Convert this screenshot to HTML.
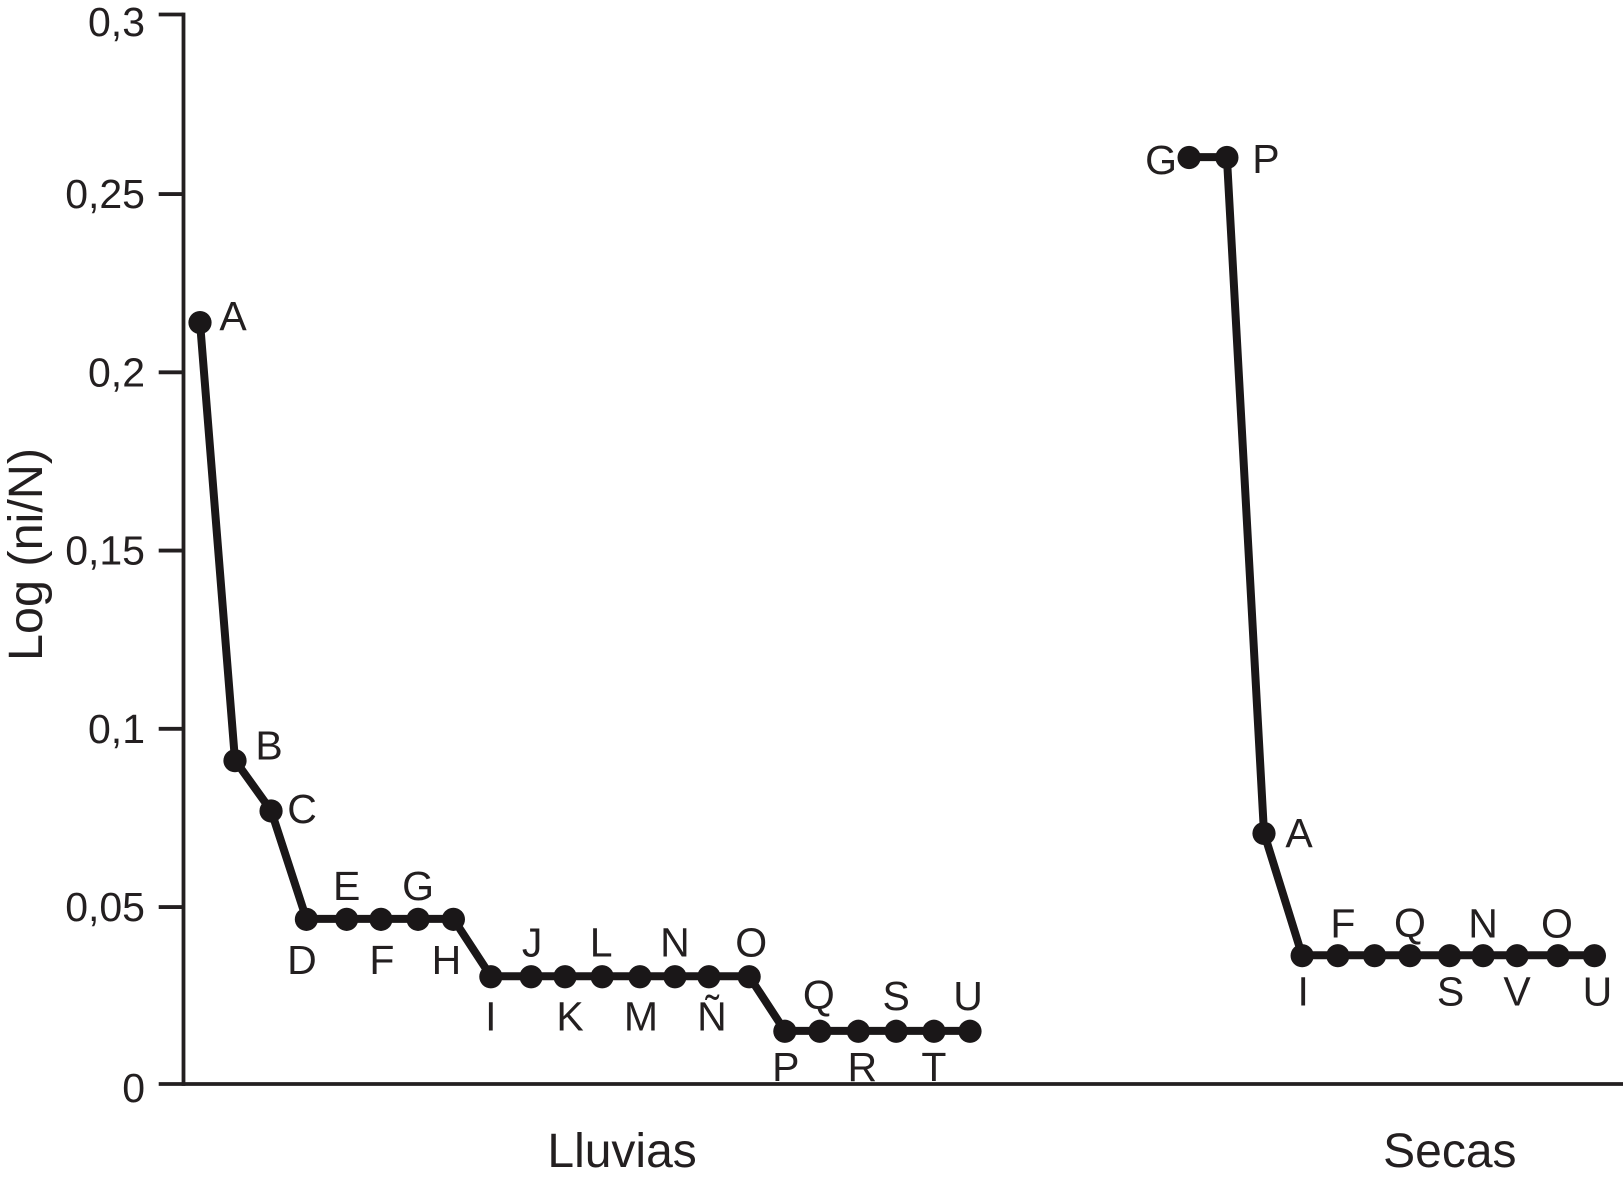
<!DOCTYPE html>
<html lang="es">
<head>
<meta charset="utf-8">
<title>Log (ni/N) Lluvias y Secas</title>
<style>
html,body{margin:0;padding:0;background:#fff;width:1623px;height:1179px;overflow:hidden}
svg{display:block}
text{font-family:"Liberation Sans",Arial,sans-serif;fill:#231f20}
</style>
</head>
<body>
<svg id="chart" xmlns="http://www.w3.org/2000/svg" width="1623" height="1179" viewBox="0 0 1623 1179">
<rect width="1623" height="1179" fill="#ffffff"/>
</svg>
<script>
// ---- Data ----
const yTicks = [0, 0.05, 0.1, 0.15, 0.2, 0.25, 0.3];
const yTickLabels = ['0', '0,05', '0,1', '0,15', '0,2', '0,25', '0,3'];
const categories = ['Lluvias', 'Secas'];

const lluviasSpecies = ['A','B','C','D','E','F','G','H','I','J','K','L','M','N','Ñ','O','P','Q','R','S','T','U'];
const lluviasRanks = [0, 1, 2.03, 3.04, 4.19, 5.17, 6.23, 7.24, 8.31, 9.46, 10.43, 11.49, 12.57, 13.57, 14.54, 15.69, 16.71, 17.71, 18.81, 19.89, 20.97, 22];
const lluviasValues = [0.2137, 0.0908, 0.0767, 0.0463, 0.0463, 0.0463, 0.0463, 0.0463, 0.0302, 0.0302, 0.0302, 0.0302, 0.0302, 0.0302, 0.0302, 0.0302, 0.0149, 0.0149, 0.0149, 0.0149, 0.0149, 0.0149];

const secasSpecies = ['G','P','A','I','F','','Q','S','N','V','O','U'];
const secasRanks = [28.26, 29.34, 30.4, 31.49, 32.51, 33.56, 34.57, 35.7, 36.66, 37.63, 38.8, 39.84];
const secasValues = [0.26, 0.26, 0.0704, 0.0361, 0.0361, 0.0361, 0.0361, 0.0361, 0.0361, 0.0361, 0.0361, 0.0361];

// ---- Label layout (offset from each marker) ----
const lluviasLabelOffsets = [[33,8],[34,-1],[31,12.5],[-4.5,55],[0,-19],[1,55],[0,-19],[-7,55],[0,54],[1,-20],[5,54],[-1,-20],[1,54],[0,-20],[3,54],[2,-20],[1,50],[-1,-22],[4,50],[0,-21],[0,50],[-2,-21]];
const secasLabelOffsets = [[-28,17],[39,16],[35,14],[1,50],[5,-18],[0,0],[0,-18.5],[1,50],[0,-18],[0,50],[-1,-18],[3,50]];

// ---- Axis functions ----
const xOrigin = 183.5, yZero = 1084, yTop = 14.5, yMax = 0.3;
const xScale = r => 200 + r * 35;
const yScale = v => yZero - (v / yMax) * (yZero - yTop);

const INK = '#231f20';
const svg = document.getElementById('chart');
const NS = 'http://www.w3.org/2000/svg';
function make(tag, attrs, parent) {
  const el = document.createElementNS(NS, tag);
  for (const k in attrs) el.setAttribute(k, attrs[k]);
  (parent || svg).appendChild(el);
  return el;
}

// ---- Axes ----
const yAxis = make('line', {x1: xOrigin, y1: yTop - 1.9, x2: xOrigin, y2: yZero + 1.9, stroke: INK, 'stroke-width': 3.8});


const xAxis = make('line', {x1: xOrigin, y1: yZero, x2: 1623, y2: yZero, stroke: INK, 'stroke-width': 3.8});



yTicks.forEach((t, i) => {
  const isEnd = i === 0 || i === yTicks.length - 1;
  const y = yScale(t) + (isEnd ? 0 : 1.3);
  const tick = make('line', {x1: 158.7, y1: y, x2: xOrigin, y2: y, stroke: INK, 'stroke-width': 3.8});
  
  
  const nudge = i === 0 ? 18 : (i === yTicks.length - 1 ? 21.5 : 14);
  const lab = make('text', {x: 145, y: y + nudge, 'text-anchor': 'end', 'font-size': 41});
  lab.textContent = yTickLabels[i];
  
  
});

const yTitle = make('text', {transform: 'translate(42,554.5) rotate(-90)', 'text-anchor': 'middle', 'font-size': 48.5});
yTitle.textContent = 'Log (ni/N)';



const categoryCenters = [xScale(12.06), xScale(35.71)];
categories.forEach((c, i) => {
  const t = make('text', {x: categoryCenters[i], y: 1167, 'text-anchor': 'middle', 'font-size': 48});
  t.textContent = c;
  
  
});

// ---- Series ----
function drawSeries(name, ranks, values, species, offsets) {
  const g = make('g', {});
  
  
  const pts = ranks.map((r, i) => xScale(r).toFixed(1) + ',' + yScale(values[i]).toFixed(1)).join(' ');
  const line = make('polyline', {points: pts, fill: 'none', stroke: '#1a1718', 'stroke-width': 8, 'stroke-linejoin': 'round'}, g);
  
  
  ranks.forEach((r, i) => {
    const cx = xScale(r), cy = yScale(values[i]);
    const dot = make('circle', {cx: cx, cy: cy + 0.4, r: 11.6, fill: '#1a1718'}, g);
    
    
    if (species[i]) {
      const t = make('text', {x: cx + offsets[i][0], y: cy + offsets[i][1], 'text-anchor': 'middle', 'font-size': 41}, g);
      t.textContent = species[i];
      
      
    }
  });
}
drawSeries('lluvias', lluviasRanks, lluviasValues, lluviasSpecies, lluviasLabelOffsets);
drawSeries('secas', secasRanks, secasValues, secasSpecies, secasLabelOffsets);
</script>
</body>
</html>
